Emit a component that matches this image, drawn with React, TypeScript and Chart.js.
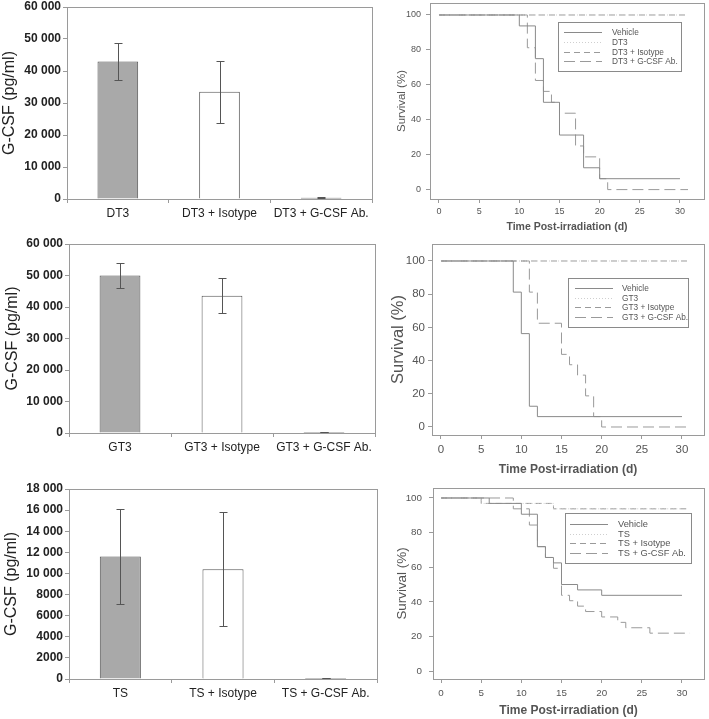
import React, { useEffect, useRef } from 'react';
import { Chart, registerables } from 'chart.js';

Chart.register(...registerables);
Chart.defaults.font.family = '"Liberation Sans", Arial, Helvetica, sans-serif';

// ---------------- DATA ----------------
// Bar panels (G-CSF, pg/ml)
const dt3Groups = ['DT3', 'DT3 + Isotype', 'DT3 + G-CSF Ab.'];
const dt3Means = [43000, 33500, 400];
const dt3Errors = [5700, 9750, 100];

const gt3Groups = ['GT3', 'GT3 + Isotype', 'GT3 + G-CSF Ab.'];
const gt3Means = [50000, 43600, 300];
const gt3Errors = [4100, 5500, 80];

const tsGroups = ['TS', 'TS + Isotype', 'TS + G-CSF Ab.'];
const tsMeans = [11600, 10400, 100];
const tsErrors = [4530, 5400, 30];

const barTicks60k = [0, 10000, 20000, 30000, 40000, 50000, 60000];
const barTicks18k = [0, 2000, 4000, 6000, 8000, 10000, 12000, 14000, 16000, 18000];

// Survival panels (Kaplan-Meier, time in days, survival %)
const survivalXTicks = [0, 5, 10, 15, 20, 25, 30];
const survivalYTicks = [0, 20, 40, 60, 80, 100];

const dt3VehicleT = [0, 10, 12, 13, 15, 18, 20, 30];
const dt3VehicleS = [100, 93.75, 75, 50, 31.25, 12.5, 6.25, 6.25];
const dt3DrugT = [0, 30];
const dt3DrugS = [100, 100];
const dt3IsoT = [0, 31];
const dt3IsoS = [100, 100];
const dt3AbT = [0, 11, 12, 13, 14, 15, 17, 18, 20, 21, 31];
const dt3AbS = [100, 81.25, 62.5, 56.25, 50, 43.75, 25, 18.75, 6.25, 0, 0];

const gt3VehicleT = [0, 9, 10, 11, 12, 30];
const gt3VehicleS = [100, 81.25, 56.25, 12.5, 6.25, 6.25];
const gt3DrugT = [0, 30];
const gt3DrugS = [100, 100];
const gt3IsoT = [0, 31];
const gt3IsoS = [100, 100];
const gt3AbT = [0, 11, 12, 15, 16, 17, 18, 19, 20, 31];
const gt3AbS = [100, 81.25, 62.5, 43.75, 37.5, 31.25, 18.75, 6.25, 0, 0];

const tsVehicleT = [0, 6, 10, 12, 13, 14, 15, 17, 20, 30];
const tsVehicleS = [100, 96.875, 90.625, 71.875, 65.625, 62.5, 50, 46.875, 43.75, 43.75];
const tsDrugT = [0, 5, 14, 30];
const tsDrugS = [100, 96.875, 93.75, 93.75];
const tsIsoT = [0, 5, 14, 31];
const tsIsoS = [100, 96.875, 93.75, 93.75];
const tsAbT = [0, 9, 11, 12, 13, 14, 15, 16, 17, 18, 20, 22, 23, 26, 31];
const tsAbS = [100, 93.75, 84.375, 71.875, 65.625, 59.375, 43.75, 40.625, 37.5, 34.375, 31.25, 28.125, 25, 21.875, 21.875];

// ---------------- STYLE ----------------
const FONT = '"Liberation Sans", Arial, Helvetica, sans-serif';
const barFills = ['#a9a9a9', '#ffffff', '#2a2a2a'];
const barEdges = ['#555555', '#555555', '#1a1a1a'];
const frameGray = '#9a9a9a';
const lineStyles = [
  { color: '#8a8a8a', dash: [] as number[] },
  { color: '#cfcfcf', dash: [1, 2] },
  { color: '#9a9a9a', dash: [6, 4] },
  { color: '#9a9a9a', dash: [11, 5] },
];

function fmtThousands(v: number) {
  if (v >= 10000) return String(v).replace(/\B(?=(\d{3})+(?!\d))/g, ' ');
  return String(v);
}

// ---------------- PLUGINS ----------------
const framePlugin = {
  id: 'frame',
  beforeDatasetsDraw(chart: any, _a: any, opts: any) {
    const { ctx, chartArea: ca } = chart;
    ctx.save();
    ctx.strokeStyle = (opts && opts.color) || frameGray;
    ctx.lineWidth = 1;
    const l = Math.round(ca.left) + 0.5;
    const t = Math.round(ca.top) + 0.5;
    const r = Math.round(ca.right) + 0.5;
    const b = Math.round(ca.bottom) + 0.5;
    ctx.strokeRect(l, t, r - l, b - t);
    ctx.restore();
  },
};

const errorBarPlugin = {
  id: 'errorBars',
  afterDatasetsDraw(chart: any, _a: any, opts: any) {
    const { ctx } = chart;
    const yScale = chart.scales.y;
    chart.data.datasets.forEach((ds: any, di: number) => {
      const meta = chart.getDatasetMeta(di);
      meta.data.forEach((el: any, i: number) => {
        const v = ds.data[i];
        const e = ds.errors ? ds.errors[i] : 0;
        if (!e) return;
        const x = Math.round(el.x) + 0.5;
        const yt = Math.round(yScale.getPixelForValue(v + e)) + 0.5;
        const yb = Math.round(yScale.getPixelForValue(v - e)) + 0.5;
        const cap = (opts && opts.cap) || 4;
        ctx.save();
        ctx.strokeStyle = (opts && opts.color) || '#555';
        ctx.lineWidth = 1;
        ctx.beginPath();
        ctx.moveTo(x, yt); ctx.lineTo(x, yb);
        ctx.moveTo(x - cap, yt); ctx.lineTo(x + cap, yt);
        ctx.moveTo(x - cap, yb); ctx.lineTo(x + cap, yb);
        ctx.stroke();
        ctx.restore();
      });
    });
  },
};

const kmLegendPlugin = {
  id: 'kmLegend',
  afterDraw(chart: any, _a: any, o: any) {
    if (!o || o.w == null) return;
    const { ctx, chartArea: ca } = chart;
    const x0 = Math.round(ca.left + o.dx);
    const y0 = Math.round(ca.top + o.dy);
    ctx.save();
    ctx.fillStyle = '#ffffff';
    ctx.fillRect(x0, y0, o.w, o.h);
    ctx.strokeStyle = '#8a8a8a';
    ctx.lineWidth = 1;
    ctx.strokeRect(x0 + 0.5, y0 + 0.5, o.w, o.h);
    ctx.font = `${o.fontSize}px ${FONT}`;
    ctx.textBaseline = 'middle';
    ctx.textAlign = 'left';
    chart.data.datasets.forEach((ds: any, i: number) => {
      const cy = Math.round(y0 + o.firstRow + i * o.rowGap) + 0.5;
      ctx.beginPath();
      ctx.setLineDash(ds.borderDash || []);
      ctx.strokeStyle = ds.borderColor;
      ctx.moveTo(x0 + o.sampleX, cy);
      ctx.lineTo(x0 + o.sampleX + o.sampleW, cy);
      ctx.stroke();
      ctx.setLineDash([]);
      ctx.fillStyle = '#555';
      ctx.fillText(ds.label, x0 + o.textX, cy);
    });
    ctx.restore();
  },
};

// ---------------- PANEL LAYOUTS ----------------
type Rect = { x: number; y: number; w: number; h: number };
type Area = { left: number; top: number; right: number; bottom: number };

function barConfig(p: any) {
  const c: Rect = p.canvas;
  const a: Area = p.area;
  return {
    type: 'bar',
    data: {
      labels: p.labels,
      datasets: [
        {
          data: p.values,
          errors: p.errors,
          backgroundColor: barFills,
          borderColor: barEdges,
          borderWidth: 1,
          borderSkipped: (ctx: any) => (ctx.dataIndex === 2 ? false : 'start'),
          barPercentage: 0.4,
          categoryPercentage: 1,
        },
      ],
    },
    options: {
      responsive: false,
      animation: false,
      devicePixelRatio: 1,
      events: [],
      layout: { padding: { left: 0, top: a.top - c.y, right: c.x + c.w - a.right, bottom: 0 } },
      plugins: {
        legend: { display: false },
        tooltip: { enabled: false },
        frame: { color: frameGray },
        errorBars: { color: '#555', cap: 4 },
      },
      scales: {
        x: {
          offset: true,
          grid: { offset: true, drawOnChartArea: false, tickLength: 4, color: frameGray },
          border: { display: true, color: frameGray },
          ticks: { font: { size: 12 }, color: '#222', padding: 3, autoSkip: false, maxRotation: 0 },
          afterFit: (s: any) => { s.height = c.y + c.h - a.bottom; },
        },
        y: {
          min: 0,
          max: p.yMax,
          afterBuildTicks: (s: any) => { s.ticks = p.yTicks.map((v: number) => ({ value: v })); },
          grid: { drawOnChartArea: false, tickLength: 4, color: frameGray },
          border: { display: true, color: frameGray },
          ticks: { callback: (v: any) => fmtThousands(Number(v)), font: { size: 12, weight: 'bold' }, color: '#222', padding: 2 },
          title: { display: true, text: 'G-CSF (pg/ml)', font: { size: 16 }, color: '#222', padding: 0 },
          afterFit: (s: any) => { s.width = a.left - c.x; },
        },
      },
    },
    plugins: [framePlugin, errorBarPlugin],
  };
}

function survConfig(p: any) {
  const c: Rect = p.canvas;
  const a: Area = p.area;
  return {
    type: 'line',
    data: {
      datasets: p.series.map((s: any, i: number) => ({
        label: s.label,
        data: s.t.map((t: number, j: number) => ({ x: t, y: s.s[j] })),
        stepped: true,
        borderColor: lineStyles[i].color,
        borderDash: lineStyles[i].dash,
        borderWidth: 1,
        pointRadius: 0,
        fill: false,
        tension: 0,
      })),
    },
    options: {
      responsive: false,
      animation: false,
      devicePixelRatio: 1,
      events: [],
      layout: { padding: { left: 0, top: a.top - c.y, right: c.x + c.w - a.right, bottom: 0 } },
      plugins: {
        legend: { display: false },
        tooltip: { enabled: false },
        frame: { color: frameGray },
        kmLegend: p.legend,
      },
      scales: {
        x: {
          type: 'linear',
          min: p.xMin,
          max: p.xMax,
          afterBuildTicks: (s: any) => { s.ticks = survivalXTicks.map((v) => ({ value: v })); },
          grid: { drawOnChartArea: false, tickLength: 4, color: frameGray },
          border: { display: true, color: frameGray },
          ticks: { font: { size: p.tickSize }, color: '#555', padding: p.xTickPad, autoSkip: false, maxRotation: 0 },
          title: { display: true, text: 'Time Post-irradiation (d)', font: { size: p.xTitleSize, weight: 'bold' }, color: '#555', padding: 0 },
          afterFit: (s: any) => { s.height = c.y + c.h - a.bottom; },
        },
        y: {
          type: 'linear',
          min: p.yMin,
          max: p.yMax,
          afterBuildTicks: (s: any) => { s.ticks = survivalYTicks.map((v) => ({ value: v })); },
          grid: { drawOnChartArea: false, tickLength: 4, color: frameGray },
          border: { display: true, color: frameGray },
          ticks: { font: { size: p.tickSize }, color: '#555', padding: p.yTickPad },
          title: { display: true, text: 'Survival (%)', font: { size: p.yTitleSize }, color: '#555', padding: 0 },
          afterFit: (s: any) => { s.width = a.left - c.x; },
        },
      },
    },
    plugins: [framePlugin, kmLegendPlugin],
  };
}

const barPanels = [
  {
    labels: dt3Groups, values: dt3Means, errors: dt3Errors, yMax: 60000, yTicks: barTicks60k,
    canvas: { x: 0, y: -10, w: 385, h: 239 }, area: { left: 67, top: 7, right: 372, bottom: 199 },
  },
  {
    labels: gt3Groups, values: gt3Means, errors: gt3Errors, yMax: 60000, yTicks: barTicks60k,
    canvas: { x: 3, y: 225, w: 382, h: 238 }, area: { left: 69, top: 244, right: 375, bottom: 433 },
  },
  {
    labels: tsGroups, values: tsMeans, errors: tsErrors, yMax: 18000, yTicks: barTicks18k,
    canvas: { x: 2, y: 470, w: 383, h: 239 }, area: { left: 69, top: 489, right: 377, bottom: 679 },
  },
];

const survPanels = [
  {
    series: [
      { label: 'Vehicle', t: dt3VehicleT, s: dt3VehicleS },
      { label: 'DT3', t: dt3DrugT, s: dt3DrugS },
      { label: 'DT3 + Isotype', t: dt3IsoT, s: dt3IsoS },
      { label: 'DT3 + G-CSF Ab.', t: dt3AbT, s: dt3AbS },
    ],
    xMin: -1.12, xMax: 32.99, yMin: -5.38, yMax: 106.87,
    tickSize: 9, xTickPad: 3, yTickPad: 5, xTitleSize: 10.5, yTitleSize: 11.5,
    canvas: { x: 395, y: -10, w: 314, h: 243 }, area: { left: 430, top: 3, right: 704, bottom: 199 },
    legend: { dx: 128, dy: 19, w: 123, h: 49, firstRow: 10.3, rowGap: 9.6, sampleX: 6, sampleW: 38, textX: 54, fontSize: 8.3 },
  },
  {
    series: [
      { label: 'Vehicle', t: gt3VehicleT, s: gt3VehicleS },
      { label: 'GT3', t: gt3DrugT, s: gt3DrugS },
      { label: 'GT3 + Isotype', t: gt3IsoT, s: gt3IsoS },
      { label: 'GT3 + G-CSF Ab.', t: gt3AbT, s: gt3AbS },
    ],
    xMin: -1.12, xMax: 32.74, yMin: -4.82, yMax: 110.24,
    tickSize: 11.5, xTickPad: 4, yTickPad: 3, xTitleSize: 12, yTitleSize: 16.5,
    canvas: { x: 389, y: 225, w: 320, h: 252 }, area: { left: 432, top: 244, right: 704, bottom: 435 },
    legend: { dx: 136, dy: 34, w: 120, h: 49, firstRow: 10, rowGap: 9.7, sampleX: 7, sampleW: 38, textX: 54, fontSize: 8.3 },
  },
  {
    series: [
      { label: 'Vehicle', t: tsVehicleT, s: tsVehicleS },
      { label: 'TS', t: tsDrugT, s: tsDrugS },
      { label: 'TS + Isotype', t: tsIsoT, s: tsIsoS },
      { label: 'TS + G-CSF Ab.', t: tsAbT, s: tsAbS },
    ],
    xMin: -1.0, xMax: 32.74, yMin: -4.62, yMax: 105.78,
    tickSize: 9.8, xTickPad: 4, yTickPad: 7, xTitleSize: 12, yTitleSize: 13.4,
    canvas: { x: 394, y: 470, w: 315, h: 248 }, area: { left: 433, top: 488, right: 704, bottom: 679 },
    legend: { dx: 132, dy: 25, w: 126, h: 50, firstRow: 11, rowGap: 9.7, sampleX: 5, sampleW: 38, textX: 53, fontSize: 9.3 },
  },
];

// ---------------- COMPONENTS ----------------
function ChartCanvas({ make, rect }: { make: () => any; rect: Rect }) {
  const ref = useRef<HTMLCanvasElement | null>(null);
  useEffect(() => {
    if (!ref.current) return;
    const chart = new Chart(ref.current, make());
    return () => chart.destroy();
  }, []);
  return (
    <canvas
      ref={ref}
      width={rect.w}
      height={rect.h}
      style={{ position: 'absolute', left: rect.x, top: rect.y, width: rect.w, height: rect.h }}
    />
  );
}

export default function App() {
  return (
    <div style={{ position: 'fixed', left: 0, top: 0, width: 709, height: 719, overflow: 'hidden', background: '#ffffff' }}>
      {barPanels.map((p, i) => (
        <ChartCanvas key={'b' + i} rect={p.canvas} make={() => barConfig(p)} />
      ))}
      {survPanels.map((p, i) => (
        <ChartCanvas key={'s' + i} rect={p.canvas} make={() => survConfig(p)} />
      ))}
    </div>
  );
}
